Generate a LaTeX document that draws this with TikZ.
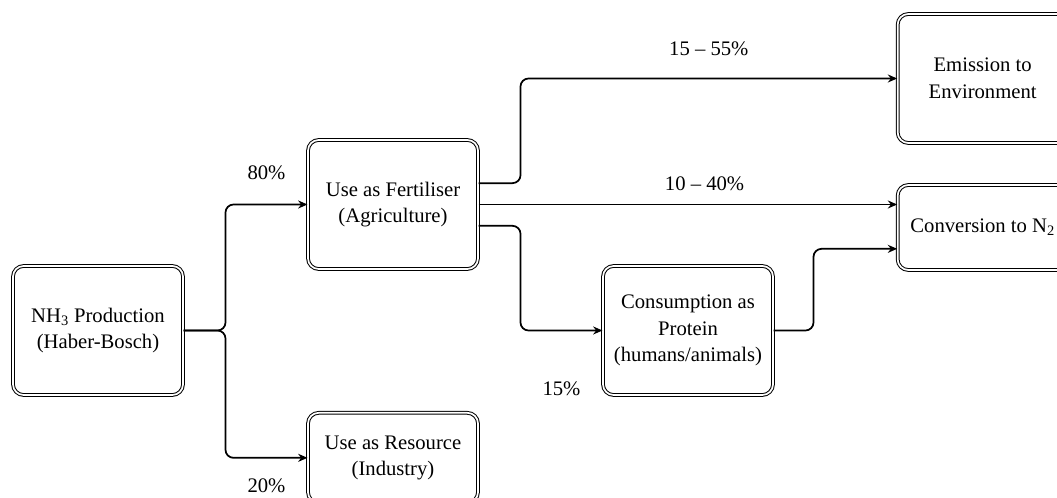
\documentclass[tikz,border=0pt]{standalone}
\usepackage{fontspec}
\setmainfont{Liberation Serif}
\usepackage{tikz}
\usetikzlibrary{arrows.meta, positioning}

\begin{document}
\begin{tikzpicture}[
    x=0.75pt, y=-0.75pt,
    stagebox/.style={
        rectangle, rounded corners=8pt, minimum width=127.5pt, minimum height=#1,
        align=center, font=\fontsize{15.5}{20}\selectfont,
        draw=black, line width=0.75pt, double=white, double distance=1.3pt
    },
    stagebox/.default=96.75pt,
    flow/.style={-{Stealth[length=7pt, width=6pt]}, line width=1.3pt, rounded corners=6pt},
    share/.style={font=\fontsize{15.5}{20}\selectfont, inner sep=0pt}
]
\path[use as bounding box] (0,0) rectangle (1057,498);
\node[stagebox] (nh3) at (98,330.5) {NH\textsubscript{3} Production\\(Haber-Bosch)};
\node[stagebox, right=93pt of nh3, yshift=94.5pt] (fert) {Use as Fertiliser\\(Agriculture)};
\node[stagebox=67.5pt, right=93pt of nh3, yshift=-95.5pt] (resource) {Use as Resource\\(Industry)};
\node[stagebox, right=93pt of fert, yshift=-94.5pt] (protein) {Consumption as\\Protein\\(humans/animals)};
\node[stagebox, right=314pt of fert, yshift=94.5pt] (emission) {Emission to\\Environment};
\node[stagebox=63.75pt, below=30.75pt of emission] (conversion) {Conversion to N\textsubscript{2}};
\coordinate[right=31.5pt of nh3.east] (split);
\draw[flow] (nh3.east) -- (split) |- (fert.west) node[share, pos=0.75, yshift=23.6pt] {80\%};
\draw[flow] (nh3.east) -- (split) |- (resource.west) node[share, pos=0.75, yshift=-21pt] {20\%};
\draw[flow] ([yshift=16pt]fert.east) -- ++(31.5pt,0) |- (emission.west) node[share, pos=0.75, yshift=22pt] {15 -- 55\%};
\draw[flow] (fert.east) -- (fert.east -| conversion.west) node[share, pos=0.54, yshift=15.4pt] {10 -- 40\%};
\draw[flow] ([yshift=-16pt]fert.east) -- ++(31.5pt,0) |- (protein.west) node[share, pos=0.75, yshift=-44pt] {15\%};
\draw[flow] (protein.east) -- ++(30pt,0) |- ([yshift=-16pt]conversion.west);
\end{tikzpicture}
\end{document}
